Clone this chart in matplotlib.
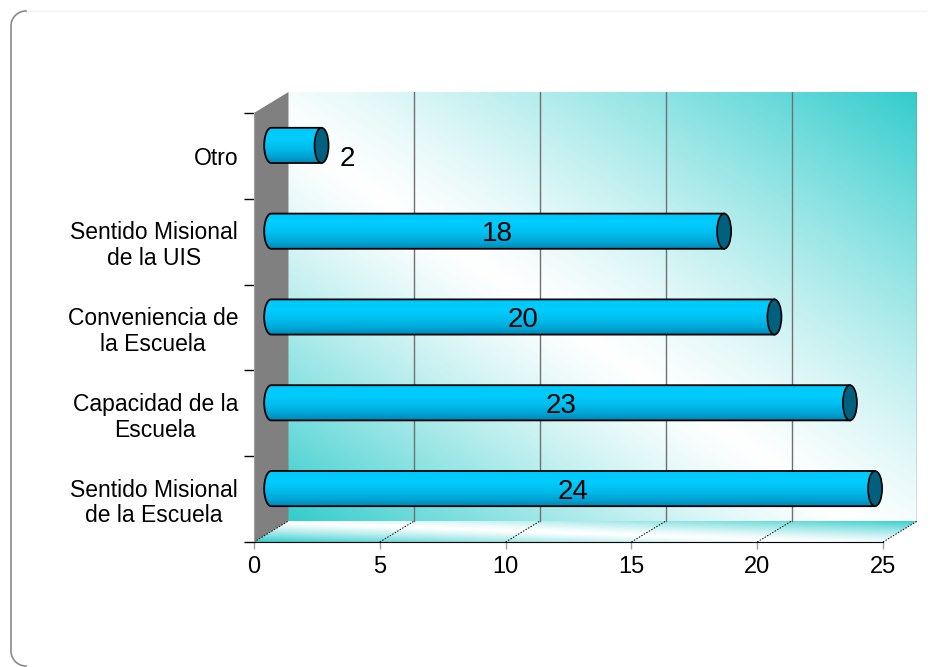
import numpy as np
import matplotlib.pyplot as plt
from matplotlib.patches import Polygon, Ellipse, PathPatch
from matplotlib.path import Path
from matplotlib.colors import LinearSegmentedColormap

plt.rcParams['font.family'] = ['Liberation Sans', 'DejaVu Sans']

categories = ["Sentido Misional\nde la Escuela", "Capacidad de la\nEscuela",
              "Conveniencia de\nla Escuela", "Sentido Misional\nde la UIS", "Otro"]
values = [24, 23, 20, 18, 2]
x_ticks = [0, 5, 10, 15, 20, 25]

W, H = 930, 667
fig = plt.figure(figsize=(W / 100, H / 100), dpi=100)

XMAX = x_ticks[-1]
NCAT = len(categories)
DX = 1.37    # depth of the 3-D box along x (data units)
DY = 0.245   # depth along y (category units)

PX_X = 629 / XMAX    # pixels per x unit
PX_Y = 429 / NCAT    # pixels per category
left, bottom = 254, 542
right = left + PX_X * (XMAX + DX)
top = bottom - PX_Y * (NCAT + DY)
ax = fig.add_axes([left / W, 1 - bottom / H, (right - left) / W, (bottom - top) / H])
ax.set_xlim(0, XMAX + DX)
ax.set_ylim(0, NCAT + DY)
ax.patch.set_alpha(0)

TEAL = np.array([0x33, 0xCC, 0xCC]) / 255.0


def diag_shade(u, v, t0=0.45, power=1.25):
    # teal in two opposite corners, white along the middle diagonal
    t = (u + v) / 2.0
    w = np.where(t < t0, (t0 - t) / t0, (t - t0) / (1 - t0))
    w = np.clip(w, 0, 1) ** power
    w = w[..., None]
    return (1 - w) * 1.0 + w * TEAL


# back wall
n = 300
uu, vv = np.meshgrid(np.linspace(0, 1, n), np.linspace(0, 1, n))
ax.imshow(diag_shade(uu, vv), extent=(DX, XMAX + DX, DY, NCAT + DY),
          origin='lower', aspect='auto', interpolation='bilinear', zorder=0)

# floor (parallelogram)
xs = np.linspace(0, XMAX + DX, n)
ys = np.linspace(0, DY, 60)
gx, gy = np.meshgrid(xs, ys)
fv = gy / DY
fu = np.clip((gx - fv * DX) / XMAX, 0, 1)
floor_img = ax.imshow(diag_shade(fu, fv), extent=(0, XMAX + DX, 0, DY),
                      origin='lower', aspect='auto', interpolation='bilinear', zorder=0)
floor = Polygon([(0, 0), (XMAX, 0), (XMAX + DX, DY), (DX, DY)], closed=True,
                fc='none', ec='none')
ax.add_patch(floor)
floor_img.set_clip_path(floor)

# side wall
ax.add_patch(Polygon([(0, 0), (DX, DY), (DX, NCAT + DY), (0, NCAT)], closed=True,
                     fc='#808080', ec='none', zorder=1))

# gridlines on the wall and dotted lines across the floor
for k in x_ticks:
    if k > 0:
        ax.plot([k + DX, k + DX], [DY, NCAT + DY], color='#707070', lw=1, zorder=1)
    ax.plot([k, k + DX], [0, DY], color='black', lw=0.7, ls=(0, (1.5, 1.5)), zorder=1)

# cylinder bars
body_cmap = LinearSegmentedColormap.from_list(
    'cyl', [(0.0, '#0088b8'), (0.2, '#00a6d6'), (0.45, '#00bfee'),
            (0.7, '#00ccff'), (1.0, '#00c8fa')])
bh = 0.41
ew = 0.56
grad = np.linspace(0, 1, 100)[:, None]
for i, v in enumerate(values):
    yc = i + 0.5 + DY / 2
    x0 = DX / 2
    x1 = v + DX / 2
    th = np.linspace(np.pi / 2, 3 * np.pi / 2, 40)
    pts = [(x0 + ew / 2 * np.cos(a), yc + bh / 2 * np.sin(a)) for a in th]
    pts += [(x1, yc - bh / 2), (x1, yc + bh / 2), pts[0]]
    body = PathPatch(Path(pts), fc='none', ec='black', lw=1.3, zorder=4)
    ax.add_patch(body)
    im = ax.imshow(grad, cmap=body_cmap, extent=(x0 - ew / 2, x1, yc - bh / 2, yc + bh / 2),
                   origin='lower', aspect='auto', zorder=3)
    im.set_clip_path(body)
    ax.add_patch(Ellipse((x1, yc), ew, bh, fc='#00607e', ec='black', lw=1.2, zorder=5))
    if v >= 5:
        ax.text((x0 + x1) / 2, yc, str(v), ha='center', va='center_baseline',
                fontsize=20, zorder=6)
    else:
        ax.text(x1 + 0.72, i + 0.5, str(v), ha='left', va='center_baseline',
                fontsize=20, zorder=6)

# axes, ticks and labels
for s in ('top', 'right'):
    ax.spines[s].set_visible(False)
ax.spines['bottom'].set_bounds(0, XMAX)
ax.spines['bottom'].set_color('black')
ax.spines['left'].set_bounds(0, NCAT)
ax.spines['left'].set_color('#a0a0a0')
ax.set_xticks(x_ticks)
ax.set_xticklabels([str(t) for t in x_ticks])
ax.tick_params(axis='x', length=5, width=1, color='#a0a0a0', labelsize=17, pad=5)
ax.set_yticks(range(NCAT + 1))
ax.set_yticklabels([])
ax.tick_params(axis='y', which='major', length=7.5, width=1, color='black')
ax.set_yticks([i + 0.5 for i in range(NCAT)], minor=True)
ax.set_yticklabels(categories, minor=True, fontsize=16.5, ha='right',
                   multialignment='center', linespacing=1.15)
ax.tick_params(axis='y', which='minor', length=0, pad=11.5)

# frame: faint top edge, grey rounded left edge
r = 15
fig.add_artist(plt.Line2D([(11 + r) / W, 926 / W], [1 - 11 / H, 1 - 11 / H],
                          transform=fig.transFigure, color='#f3f3f3', lw=1))
ang1 = np.linspace(np.pi, np.pi / 2, 20)
ang2 = np.linspace(np.pi, 3 * np.pi / 2, 20)
top_arc = [(11 + r + r * np.cos(a), 11 + r - r * np.sin(a)) for a in ang1][::-1]
bot_arc = [(11 + r + r * np.cos(a), 666 - r - r * np.sin(a)) for a in ang2]
edge = top_arc + bot_arc
fig.add_artist(plt.Line2D([p[0] / W for p in edge], [1 - p[1] / H for p in edge],
                          transform=fig.transFigure, color='#8a8a8a', lw=1.2))

fig.savefig('out.png', dpi=100)
